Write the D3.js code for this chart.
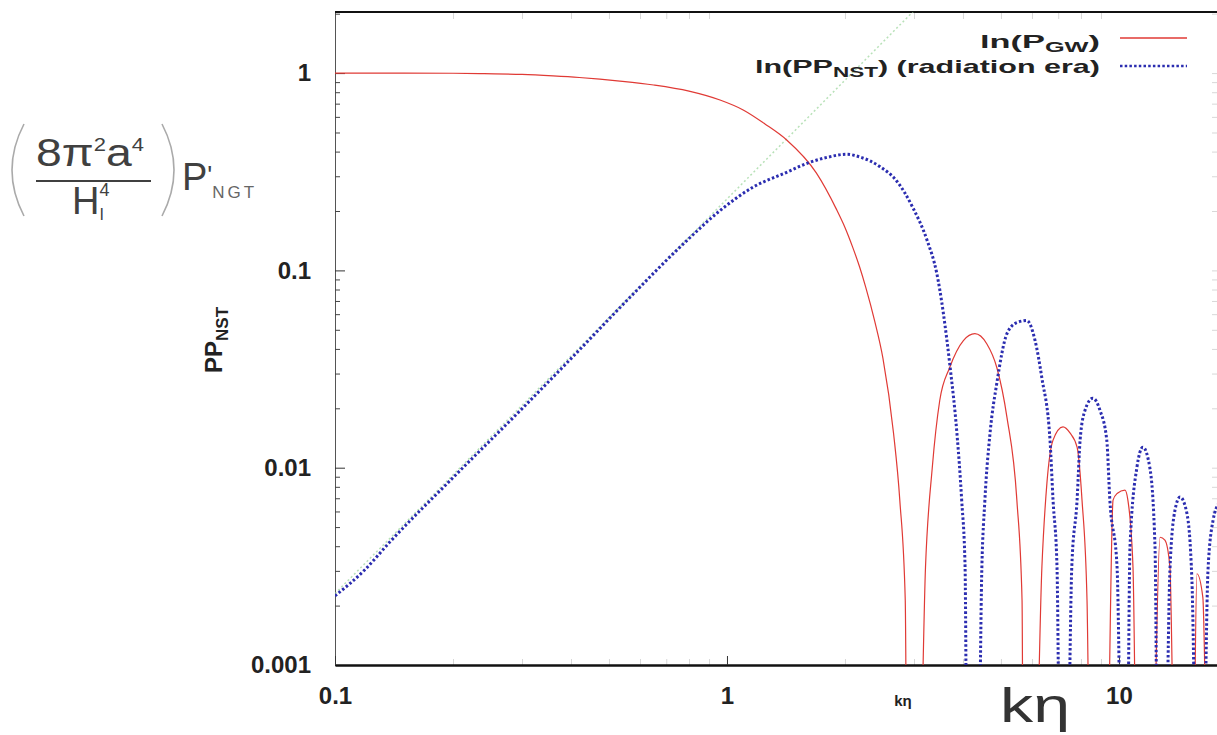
<!DOCTYPE html>
<html>
<head>
<meta charset="utf-8">
<script src="https://cdn.jsdelivr.net/npm/d3@7"></script>
<style>
body { margin: 0; background: #fff; }
svg { display: block; font-family: "Liberation Sans", Arial, sans-serif; }
</style>
</head>
<body>
<svg id="chart" width="1217" height="735"></svg>
<script>
// values (k eta, power)
var redK = [0.1, 0.15, 0.2, 0.24, 0.3, 0.36, 0.42, 0.474, 0.533, 0.65, 0.8, 0.96, 1.1, 1.25, 1.42, 1.69, 1.9, 2.0, 2.09, 2.18, 2.26, 2.38, 2.5, 2.66, 2.76, 2.85, 2.88,
    3.09, 3.21, 3.34, 3.49, 3.70, 4.01, 4.29, 4.60, 4.88, 5.18, 5.49, 5.66, 5.70,
    6.10, 6.36, 6.55, 6.79, 7.20, 7.50, 7.82, 8.05, 8.29, 8.45,
    9.30, 9.66, 9.89, 10.36, 10.54, 10.86, 11.12,
    12.14, 12.73, 13.10, 13.49, 13.90,
    15.45, 15.81, 16.37, 16.87,
    17.6, 18];
var redV = [1.0, 1.0, 0.998, 0.993, 0.985, 0.968, 0.95, 0.932, 0.911, 0.87, 0.81, 0.73, 0.65, 0.552, 0.458, 0.312, 0.205, 0.165, 0.132, 0.104, 0.082, 0.0556, 0.0358, 0.015, 0.00685, 0.00213, 0.0002,
    0.0002, 0.00314, 0.01, 0.0219, 0.0322, 0.0441, 0.0478, 0.0425, 0.0322, 0.018, 0.00685, 0.00213, 0.0002,
    0.0002, 0.00314, 0.00835, 0.0138, 0.0161, 0.015, 0.0127, 0.00685, 0.00213, 0.0002,
    0.0002, 0.00685, 0.0074, 0.0077, 0.00685, 0.00314, 0.0002,
    0.0002, 0.00444, 0.00429, 0.00314, 0.0002,
    0.0002, 0.0029, 0.0022, 0.0002,
    0.0002, 0.0016];

var blueK = [0.1, 0.119, 0.138, 0.2, 0.3, 0.4, 0.565, 0.791, 0.96, 1.165, 1.42, 1.60, 1.80, 2.02, 2.18, 2.46, 2.71, 2.98, 3.24, 3.43, 3.71, 3.86, 3.97, 4.05, 4.10,
    4.37, 4.47, 4.55, 4.69, 4.88, 5.18, 5.49, 5.82, 6.11, 6.36, 6.67, 6.79, 6.95, 7.08,
    7.37, 7.58, 7.82, 7.96, 8.19, 8.58, 8.95, 9.31, 9.48, 9.89, 10.18,
    10.48, 10.67, 11.11, 11.51, 11.99, 12.36, 12.57,
    13.10, 13.49, 13.90, 14.32, 14.90, 15.35, 15.81,
    16.37, 16.87, 17.38, 18.0];
var blueV = [0.00224, 0.00303, 0.0042, 0.0089, 0.0199, 0.0357, 0.0729, 0.142, 0.201, 0.264, 0.314, 0.349, 0.374, 0.388, 0.376, 0.335, 0.284, 0.208, 0.142, 0.0966, 0.0322, 0.015, 0.00685, 0.00314, 0.0002,
    0.0002, 0.00314, 0.00685, 0.015, 0.0268, 0.0478, 0.0544, 0.0557, 0.0441, 0.0284, 0.0138, 0.00685, 0.00314, 0.0002,
    0.0002, 0.00314, 0.00685, 0.0138, 0.0195, 0.0225, 0.0195, 0.0138, 0.00685, 0.00314, 0.0002,
    0.0002, 0.00396, 0.01, 0.0127, 0.01, 0.00396, 0.0002,
    0.0002, 0.003, 0.0061, 0.0071, 0.0059, 0.0027, 0.0002,
    0.0002, 0.003, 0.0054, 0.0066];

// k^2 guide line
var greenK = [0.1, 3.0];
var greenV = [0.0023, 2.07];

var yTicks = [0.001, 0.01, 0.1, 1];
var yMinor = [0.002, 0.003, 0.004, 0.005, 0.006, 0.007, 0.008, 0.009,
    0.02, 0.03, 0.04, 0.05, 0.06, 0.07, 0.08, 0.09,
    0.2, 0.3, 0.4, 0.5, 0.6, 0.7, 0.8, 0.9, 2];
var xTicks = [0.1, 1, 10];
var xMinor = [0.2, 0.3, 0.4, 0.5, 0.6, 0.7, 0.8, 0.9, 2, 3, 4, 5, 6, 7, 8, 9];

function zip(ks, vs) {
    return ks.map(function (k, i) { return {k: k, v: vs[i]}; });
}

var svg = d3.select("#chart");

var x = d3.scaleLog().domain([0.1, 18]).range([335, 1219]);
var y = d3.scaleLog().domain([0.001, 2.04]).range([665, 12]);

var fmt = function (d) { return String(d); };

svg.append("clipPath").attr("id", "plotclip")
    .append("rect")
    .attr("x", x(0.1)).attr("y", y(2.04))
    .attr("width", x(18) - x(0.1)).attr("height", y(0.001) - y(2.04));

// faint minor ticks on the frame
svg.append("g").attr("class", "minor")
    .attr("transform", "translate(0," + y(2.04) + ")")
    .call(d3.axisBottom(x).tickValues(xMinor).tickSize(7).tickFormat(""));
svg.append("g").attr("class", "minor")
    .attr("transform", "translate(0," + y(0.001) + ")")
    .call(d3.axisTop(x).tickValues(xMinor).tickSize(6).tickFormat(""));
svg.append("g").attr("class", "minor")
    .attr("transform", "translate(" + x(18) + ",0)")
    .call(d3.axisLeft(y).tickValues(yTicks.concat(yMinor)).tickSize(7).tickFormat(""));
svg.selectAll(".minor path").remove();
svg.selectAll(".minor line").attr("stroke", "#d8d8d8");

// left axis
var yAxis = svg.append("g")
    .attr("transform", "translate(" + x(0.1) + ",0)")
    .call(d3.axisLeft(y).tickValues(yTicks).tickSizeInner(-10).tickSizeOuter(0).tickPadding(24).tickFormat(fmt));
yAxis.select("path").attr("stroke", "#555");
yAxis.selectAll("line").attr("stroke", "#333");
yAxis.selectAll("text")
    .attr("font-size", 24).attr("font-weight", "bold").attr("fill", "#222")
    .attr("font-family", "'Liberation Sans', Arial, sans-serif");

svg.append("g")
    .attr("transform", "translate(" + x(0.1) + ",0)")
    .call(d3.axisLeft(y).tickValues(yMinor).tickSize(-5).tickFormat(""))
    .call(function (g) {
        g.select("path").remove();
        g.selectAll("line").attr("stroke", "#444");
    });

// bottom axis
var xAxis = svg.append("g")
    .attr("transform", "translate(0," + y(0.001) + ")")
    .call(d3.axisBottom(x).tickValues(xTicks).tickSizeInner(-9).tickSizeOuter(0).tickPadding(22).tickFormat(fmt));
xAxis.select("path").attr("stroke", "#111").attr("stroke-width", 2.5);
xAxis.selectAll("line").attr("stroke", "#333");
xAxis.selectAll("text")
    .attr("font-size", 24).attr("font-weight", "bold").attr("fill", "#222")
    .attr("font-family", "'Liberation Sans', Arial, sans-serif");

// top border
svg.append("line")
    .attr("x1", x(0.1)).attr("x2", x(18))
    .attr("y1", y(2.04)).attr("y2", y(2.04))
    .attr("stroke", "#111").attr("stroke-width", 2);

var line = d3.line()
    .curve(d3.curveMonotoneX)
    .x(function (d) { return x(d.k); })
    .y(function (d) { return y(d.v); });

var plot = svg.append("g").attr("clip-path", "url(#plotclip)");

plot.append("path")
    .datum(zip(greenK, greenV))
    .attr("d", line)
    .attr("fill", "none")
    .attr("stroke", "#9ad49a")
    .attr("stroke-width", 1.5)
    .attr("stroke-dasharray", "2,2.5")
    .attr("opacity", 0.7);

plot.append("path")
    .datum(zip(redK, redV))
    .attr("d", line)
    .attr("fill", "none")
    .attr("stroke", "#e03a35")
    .attr("stroke-width", 1.2);

plot.append("path")
    .datum(zip(blueK, blueV))
    .attr("d", line)
    .attr("fill", "none")
    .attr("stroke", "#2b2db0")
    .attr("stroke-width", 3)
    .attr("stroke-dasharray", "2.5,2.2");

// legend
var legend = svg.append("g")
    .attr("font-weight", "bold").attr("font-size", 19).attr("fill", "#222");
var l1 = legend.append("text").attr("x", 1100).attr("y", 48).attr("text-anchor", "end")
    .attr("textLength", 120).attr("lengthAdjust", "spacingAndGlyphs");
l1.append("tspan").text("ln(P");
l1.append("tspan").attr("font-size", 14).attr("dy", 4).text("GW");
l1.append("tspan").attr("dy", -4).text(")");
var l2 = legend.append("text").attr("x", 1100).attr("y", 73).attr("text-anchor", "end")
    .attr("textLength", 345).attr("lengthAdjust", "spacingAndGlyphs");
l2.append("tspan").text("ln(PP");
l2.append("tspan").attr("font-size", 14).attr("dy", 4).text("NST");
l2.append("tspan").attr("dy", -4).text(") (radiation era)");
legend.append("line")
    .attr("x1", 1120).attr("x2", 1187).attr("y1", 38).attr("y2", 38)
    .attr("stroke", "#e03a35").attr("stroke-width", 1.5);
legend.append("line")
    .attr("x1", 1120).attr("x2", 1187).attr("y1", 66).attr("y2", 66)
    .attr("stroke", "#2b2db0").attr("stroke-width", 2.5).attr("stroke-dasharray", "2.5,2.2");

// y label
var yl = svg.append("text")
    .attr("transform", "translate(222,340) rotate(-90)")
    .attr("text-anchor", "middle")
    .attr("font-weight", "bold").attr("font-size", 24).attr("fill", "#222");
yl.append("tspan").text("PP");
yl.append("tspan").attr("font-size", 17).attr("dy", 6).text("NST");

// x labels
svg.append("text")
    .attr("x", 903).attr("y", 706).attr("text-anchor", "middle")
    .attr("font-weight", "bold").attr("font-size", 15).attr("fill", "#222")
    .text("kη");
svg.append("text")
    .attr("x", 1000).attr("y", 722)
    .attr("font-size", 48).attr("fill", "#333")
    .attr("textLength", 70).attr("lengthAdjust", "spacingAndGlyphs")
    .text("kη");

// prefactor formula, top-left
var f = svg.append("g").attr("fill", "#404040").attr("font-size", 38);
var pth = d3.path();
pth.moveTo(24, 124); pth.quadraticCurveTo(0, 170, 24, 216);
pth.moveTo(162, 124); pth.quadraticCurveTo(186, 170, 162, 216);
f.append("path").attr("d", pth.toString())
    .attr("fill", "none").attr("stroke", "#aaa").attr("stroke-width", 1.6);
var num = f.append("text").attr("x", 36).attr("y", 166)
    .attr("textLength", 108).attr("lengthAdjust", "spacingAndGlyphs");
num.append("tspan").text("8π");
num.append("tspan").attr("font-size", 18).attr("dy", -15).text("2");
num.append("tspan").attr("dy", 15).text("a");
num.append("tspan").attr("font-size", 18).attr("dy", -15).text("4");
f.append("line").attr("x1", 36).attr("x2", 151).attr("y1", 181).attr("y2", 181)
    .attr("stroke", "#404040").attr("stroke-width", 2);
var den = f.append("text").attr("x", 72).attr("y", 214);
den.append("tspan").text("H");
den.append("tspan").attr("font-size", 18).attr("dy", -18).text("4");
den.append("tspan").attr("font-size", 16).attr("dx", -10).attr("dy", 24).text("I");
var pp = f.append("text").attr("x", 182).attr("y", 190);
pp.append("tspan").text("P");
pp.append("tspan").attr("font-size", 26).attr("dy", -6).text("'");
pp.append("tspan").attr("font-size", 17).attr("dy", 14).attr("fill", "#666")
    .attr("letter-spacing", 3).text("NGT");
</script>
</body>
</html>
